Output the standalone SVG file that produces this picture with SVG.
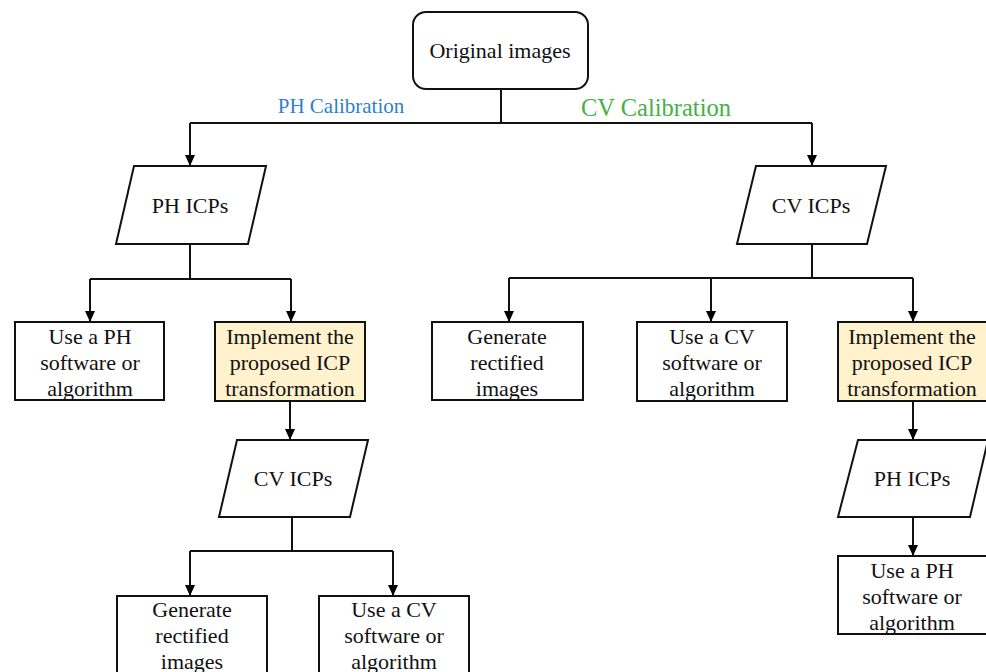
<svg xmlns="http://www.w3.org/2000/svg" width="986" height="672" viewBox="0 0 986 672">
<defs>
<marker id="ah" markerWidth="12" markerHeight="10" refX="11" refY="5" orient="auto" markerUnits="userSpaceOnUse">
<path d="M0,0 L11,5 L0,10 Z" fill="#000"/>
</marker>
<style>
.t{font-family:"Liberation Serif","Times New Roman",serif;font-size:22px;fill:#111;text-anchor:middle}
.box{fill:#fff;stroke:#111;stroke-width:2}
.hl{fill:#FFF2CC;stroke:#111;stroke-width:2}
.c{fill:none;stroke:#111;stroke-width:2}
.a{fill:none;stroke:#111;stroke-width:2;marker-end:url(#ah)}
</style>
</defs>
<rect width="986" height="672" fill="#fff"/>
<g id="connectors">
<path class="c" d="M501,89 V123 M190,123 H812"/>
<path class="a" d="M190,123 V166"/>
<path class="a" d="M812,123 V166"/>
<path class="c" d="M190,244 V279 M90,279 H291"/>
<path class="a" d="M90,279 V322"/>
<path class="a" d="M291,279 V322"/>
<path class="a" d="M290,401 V440"/>
<path class="c" d="M292,517 V551 M190,551 H393"/>
<path class="a" d="M190,551 V596"/>
<path class="a" d="M393,551 V596"/>
<path class="c" d="M812,244 V278 M509,278 H913"/>
<path class="a" d="M509,278 V322"/>
<path class="a" d="M711,278 V322"/>
<path class="a" d="M913,278 V322"/>
<path class="a" d="M913,401 V440"/>
<path class="a" d="M913,517 V556"/>
</g>
<g id="labels">
<text x="341" y="113" style="font-family:'Liberation Serif','Times New Roman',serif;font-size:21px;fill:#2E7FD0;text-anchor:middle">PH Calibration</text>
<text x="656" y="116" style="font-family:'Liberation Serif','Times New Roman',serif;font-size:24.5px;fill:#45B045;text-anchor:middle">CV Calibration</text>
</g>
<g id="original">
<rect class="box" x="413" y="12" width="175" height="77" rx="13"/>
<text class="t" x="500" y="58">Original images</text>
</g>
<g id="ph_icps_left">
<path class="box" d="M134,166 H266 L248,244 H116 Z"/>
<text class="t" x="190" y="213">PH ICPs</text>
</g>
<g id="cv_icps_right">
<path class="box" d="M756,166 H886 L867,244 H737 Z"/>
<text class="t" x="811" y="213">CV ICPs</text>
</g>
<g id="use_ph_left">
<rect class="box" x="15" y="322" width="149" height="78"/>
<text class="t" x="90" y="344">Use a PH</text>
<text class="t" x="90" y="370">software or</text>
<text class="t" x="90" y="396">algorithm</text>
</g>
<g id="implement_left">
<rect class="hl" x="215" y="322" width="150" height="79"/>
<text class="t" x="290" y="344">Implement the</text>
<text class="t" x="290" y="370">proposed ICP</text>
<text class="t" x="290" y="396">transformation</text>
</g>
<g id="cv_icps_left">
<path class="box" d="M237,440 H368 L350,517 H219 Z"/>
<text class="t" x="293" y="486">CV ICPs</text>
</g>
<g id="generate_left">
<rect class="box" x="117" y="596" width="150" height="90"/>
<text class="t" x="192" y="617">Generate</text>
<text class="t" x="192" y="643">rectified</text>
<text class="t" x="192" y="669">images</text>
</g>
<g id="use_cv_left">
<rect class="box" x="319" y="596" width="150" height="90"/>
<text class="t" x="394" y="617">Use a CV</text>
<text class="t" x="394" y="643">software or</text>
<text class="t" x="394" y="669">algorithm</text>
</g>
<g id="generate_right">
<rect class="box" x="432" y="322" width="151" height="78"/>
<text class="t" x="507" y="344">Generate</text>
<text class="t" x="507" y="370">rectified</text>
<text class="t" x="507" y="396">images</text>
</g>
<g id="use_cv_right">
<rect class="box" x="637" y="322" width="150" height="79"/>
<text class="t" x="712" y="344">Use a CV</text>
<text class="t" x="712" y="370">software or</text>
<text class="t" x="712" y="396">algorithm</text>
</g>
<g id="implement_right">
<rect class="hl" x="838" y="322" width="150" height="79"/>
<text class="t" x="912" y="344">Implement the</text>
<text class="t" x="912" y="370">proposed ICP</text>
<text class="t" x="912" y="396">transformation</text>
</g>
<g id="ph_icps_right">
<path class="box" d="M858,440 H988 L970,517 H838 Z"/>
<text class="t" x="912" y="486">PH ICPs</text>
</g>
<g id="use_ph_right">
<rect class="box" x="838" y="556" width="150" height="78"/>
<text class="t" x="912" y="578">Use a PH</text>
<text class="t" x="912" y="604">software or</text>
<text class="t" x="912" y="630">algorithm</text>
</g>
</svg>
